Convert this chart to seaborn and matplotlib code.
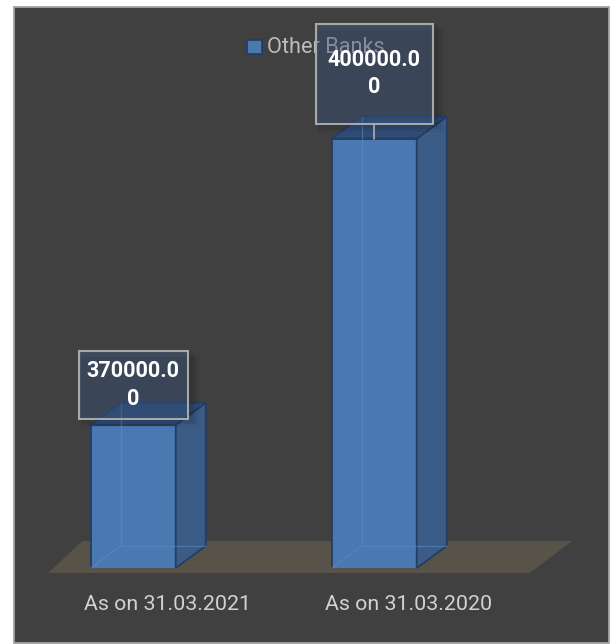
import matplotlib
matplotlib.use("Agg")
import matplotlib.pyplot as plt
import matplotlib.transforms as mtransforms
from matplotlib.patches import Rectangle, Polygon
from matplotlib.lines import Line2D
import pandas as pd
import seaborn as sns

# ---- data ----
categories = ["As on 31.03.2021", "As on 31.03.2020"]
values = [370000.00, 400000.00]
series_name = "Other Banks"
axis_min = 355000
value_span = 30000          # value range shown by 286 px of bar height

# ---- canvas / style ----
W, H, DPI = 616, 644, 100
sns.set_theme(style="dark")
plt.rcParams["font.family"] = ["Roboto", "DejaVu Sans"]

BG = "#404040"
FRONT = "#4a78b0"
SIDE = "#3c5c88"
TOP = "#2f4c76"
EDGE = "#243d61"
FLOOR = "#575348"
LABEL_GREY = "#d2d2d2"

fig = plt.figure(figsize=(W / DPI, H / DPI), dpi=DPI, facecolor="white")


def fig_frac(x, y):
    """top-left pixel position -> figure fraction"""
    return x / W, 1 - y / H


def disp(x, y):
    """top-left pixel position -> display coords"""
    return x, H - y


# dark chart panel
px0, py0, px1, py1 = 14, 7, 609, 643
fig.patches.append(Rectangle(fig_frac(px0, py1), (px1 - px0) / W, (py1 - py0) / H,
                             transform=fig.transFigure, facecolor=BG,
                             edgecolor="#a3a3a3", lw=1.3, zorder=-5))

# plot area: bottom edge is the front of the floor, bars are clipped there
ax_left, ax_right, ax_top, ax_bottom = 14, 609, 7, 568
ax = fig.add_axes([ax_left / W, 1 - ax_bottom / H,
                   (ax_right - ax_left) / W, (ax_bottom - ax_top) / H])
ax.set_facecolor("none")

df = pd.DataFrame({"category": categories, "value": values})
sns.barplot(data=df, x="category", y="value", ax=ax, color=FRONT, saturation=1,
            width=0.353, edgecolor=EDGE, linewidth=1.3, zorder=4)

# scales: category spacing 241 px, 286.3 px per value_span
cat0_px, cat_step = 133.2, 241.0
px_per_val = 286.3 / value_span
ax.set_xlim((ax_left - cat0_px) / cat_step, (ax_right - cat0_px) / cat_step)
ax.set_ylim(axis_min, axis_min + (ax_bottom - ax_top) / px_per_val)

for s in ax.spines.values():
    s.set_visible(False)
ax.set_xlabel("")
ax.set_ylabel("")
ax.set_yticks([])
ax.grid(False)
ax.tick_params(axis="x", length=0, pad=26.6, labelsize=15.4, labelcolor=LABEL_GREY)
shift = mtransforms.ScaledTranslation(34.5 / DPI, 0, fig.dpi_scale_trans)
for lbl in ax.get_xticklabels():
    lbl.set_transform(lbl.get_transform() + shift)
    lbl.set_va("center")

ident = mtransforms.IdentityTransform()

# floor slab
floor = [disp(48, 573), disp(530, 573), disp(572, 541), disp(82.5, 541)]
ax.add_patch(Polygon(floor, closed=True, transform=ident, facecolor=FLOOR,
                     edgecolor="none", zorder=1, clip_on=False))

# depth of the 3-D boxes, in px
DX, DY = 30, 22

bars = sorted([p for p in ax.patches if isinstance(p, Rectangle)],
              key=lambda p: p.get_x())[:len(values)]

to_disp = ax.transData.transform
for bar in bars:
    xl, xr = bar.get_x(), bar.get_x() + bar.get_width()
    (lx, by), (rx, ty) = to_disp([(xl, axis_min), (xr, bar.get_height())])
    side = [(rx, by), (rx + DX, by + DY), (rx + DX, ty + DY), (rx, ty)]
    top = [(lx, ty), (lx + DX, ty + DY), (rx + DX, ty + DY), (rx, ty)]
    ax.add_patch(Polygon(side, closed=True, transform=ident, facecolor=SIDE,
                         edgecolor=EDGE, lw=1.3, zorder=4, clip_on=False))
    ax.add_patch(Polygon(top, closed=True, transform=ident, facecolor=TOP,
                         edgecolor=EDGE, lw=1.3, zorder=4, clip_on=False))
    # hidden back edges seen through the translucent front
    for xs, ys in [([lx + DX, lx + DX], [by + DY, ty + DY]),
                   ([lx, lx + DX], [by, by + DY]),
                   ([lx + DX, rx + DX], [by + DY, by + DY])]:
        ax.add_line(Line2D(xs, ys, transform=ident, color="#5b8cc8", lw=0.9,
                           alpha=0.55, zorder=5, clip_on=False))

# legend
lx0, ly0 = 247, 40
ax.add_patch(Rectangle(disp(lx0, ly0 + 14), 15, 14, transform=ident,
                       facecolor=FRONT, edgecolor=EDGE, lw=1.2, zorder=6, clip_on=False))
ax.text(*disp(267, 47.5), series_name, transform=ident, ha="left", va="center",
        fontsize=15.7, color="#bdbdbd", zorder=6, clip_on=False)

# data labels: gap above bar top, box height, box width (px)
label_gap = [6, 15]
label_h = [68, 100]
label_w = [109, 117]
for bar, v, gap, bh, bw in zip(bars, values, label_gap, label_h, label_w):
    cx_data = bar.get_x() + bar.get_width() / 2
    cx, ty = to_disp((cx_data, v))
    b = ty + gap
    # soft drop shadow
    for k, a in [(9, 0.05), (6, 0.06), (3, 0.08)]:
        ax.add_patch(Rectangle((cx - bw / 2 + 2, b - k + 1), bw + k, bh + 2, transform=ident,
                               facecolor="black", edgecolor="none", alpha=a,
                               zorder=7, clip_on=False))
    ax.add_patch(Rectangle((cx - bw / 2, b), bw, bh, transform=ident,
                           facecolor=(0.30, 0.45, 0.68, 0.30), edgecolor="#a8a8a8",
                           lw=1.5, zorder=8, clip_on=False))
    if gap > 10:
        ax.add_line(Line2D([cx, cx], [ty, b], transform=ident, color="#a8a8a8",
                           lw=1.3, zorder=8, clip_on=False))
    s = f"{v:.2f}"
    ax.text(cx, b + bh / 2, s[:8] + "\n" + s[8:], transform=ident, ha="center",
            va="center", ma="center", fontsize=15.6, fontweight="bold",
            color="white", linespacing=1.32, zorder=9, clip_on=False)

fig.savefig("out.png", dpi=DPI, facecolor=fig.get_facecolor())
